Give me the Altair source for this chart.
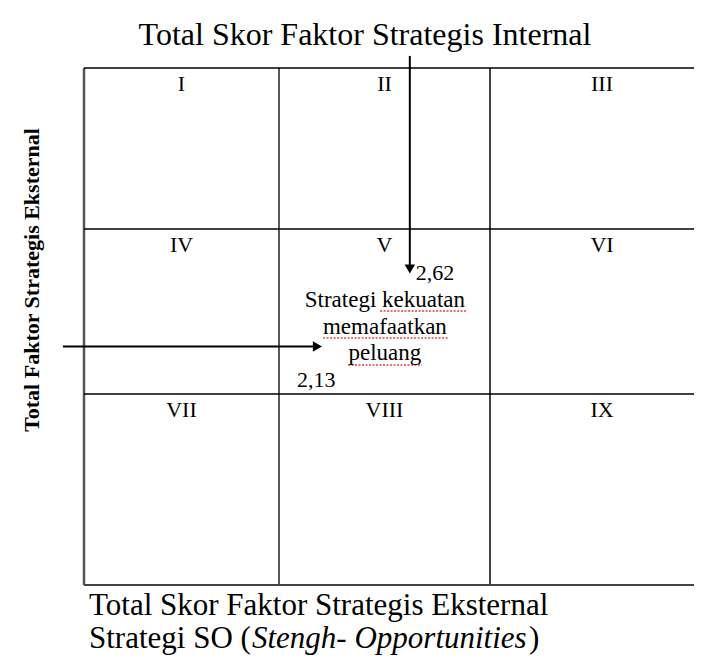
import altair as alt
import pandas as pd

# ---- data (IE matrix, score units) ----
col_bounds = [1, 2, 3, 4]          # IFE score boundaries (left -> right)
row_bounds = [4, 3, 2, 1]          # EFE score boundaries (top -> bottom)
numerals = ["I", "II", "III", "IV", "V", "VI", "VII", "VIII", "IX"]
numeral_x = [1.5, 2.5, 3.5, 1.5, 2.5, 3.5, 1.5, 2.5, 3.5]
numeral_y = [4, 4, 4, 3, 3, 3, 2, 2, 2]

ife_score = 2.62
ife_label = "2,62"
ife_arrow_from = 4.075
ife_arrow_to = 2.758

efe_pos = 2.288
efe_label = "2,13"
efe_arrow_from = 0.892
efe_arrow_to = 2.182

title_top = "Total Skor Faktor Strategis Internal"
title_left = "Total Faktor Strategis Eksternal"
bottom_line1 = "Total Skor Faktor Strategis Eksternal"
bottom_line2 = ["Strategi SO (", "Stengh- Opportunities", ")"]
center_text = "Strategi kekuatan\nmemafaatkan\npeluang"

# spell-check underline spans under the centre text (score units)
squiggle_x1 = [2.479, 2.209, 2.327]
squiggle_x2 = [2.891, 2.801, 2.678]
squiggle_y = [2.503, 2.339, 2.176]

FONT = "Times New Roman, Liberation Serif, serif"

xs = alt.Scale(domain=[1, 2, 3, 4], range=[76, 271, 482, 706], nice=False, zero=False)
ys = alt.Scale(domain=[4, 3, 2, 1], range=[60, 221, 386, 577], nice=False, zero=False)
X = lambda f: alt.X(f, type="quantitative", scale=xs, axis=None)
Y = lambda f: alt.Y(f, type="quantitative", scale=ys, axis=None)

# grid lines
vlines = pd.DataFrame({"x": col_bounds, "y1": [1] * 4, "y2": [4] * 4,
                       "w": [2.5, 1.3, 2.0, 1.3], "c": ["#555", "#000", "#444", "#000"]})
hlines = pd.DataFrame({"y": row_bounds, "x1": [1] * 4, "x2": [4] * 4,
                       "w": [1.5, 1.3, 1.5, 2.0], "c": ["#000", "#000", "#000", "#444"]})

v = alt.Chart(vlines).mark_rule().encode(
    x=X("x"), y=Y("y1"), y2="y2",
    strokeWidth=alt.StrokeWidth("w:Q", scale=None),
    color=alt.Color("c:N", scale=None))
h = alt.Chart(hlines).mark_rule().encode(
    y=Y("y"), x=X("x1"), x2="x2",
    strokeWidth=alt.StrokeWidth("w:Q", scale=None),
    color=alt.Color("c:N", scale=None))

num_df = pd.DataFrame({"t": numerals, "x": numeral_x, "y": numeral_y})
nums = alt.Chart(num_df).mark_text(font=FONT, fontSize=22, baseline="alphabetic", dy=23,
                                   color="black").encode(x=X("x"), y=Y("y"), text="t:N")

# arrows
arr_v = alt.Chart(pd.DataFrame({"x": [ife_score], "a": [ife_arrow_from], "b": [ife_arrow_to]})).mark_rule(
    color="black", strokeWidth=2).encode(x=X("x"), y=Y("a"), y2="b")
head_v = alt.Chart(pd.DataFrame({"x": [ife_score], "y": [ife_arrow_to]})).mark_point(
    shape="triangle-down", filled=True, color="black", size=110, opacity=1).encode(x=X("x"), y=Y("y"))
arr_h = alt.Chart(pd.DataFrame({"y": [efe_pos], "a": [efe_arrow_from], "b": [efe_arrow_to]})).mark_rule(
    color="black", strokeWidth=2).encode(y=Y("y"), x=X("a"), x2="b")
head_h = alt.Chart(pd.DataFrame({"x": [efe_arrow_to], "y": [efe_pos]})).mark_point(
    shape="triangle-right", filled=True, color="black", size=110, opacity=1).encode(x=X("x"), y=Y("y"))

lab_v = alt.Chart(pd.DataFrame({"x": [ife_score], "y": [ife_arrow_to], "t": [ife_label]})).mark_text(
    font=FONT, fontSize=22, align="left", baseline="alphabetic", dx=6, dy=11, color="black").encode(
    x=X("x"), y=Y("y"), text="t:N")
lab_h = alt.Chart(pd.DataFrame({"x": [2.0], "y": [efe_pos], "t": [efe_label]})).mark_text(
    font=FONT, fontSize=22, align="left", baseline="alphabetic", dx=18, dy=41, color="black").encode(
    x=X("x"), y=Y("y"), text="t:N")

squig = alt.Chart(pd.DataFrame({"a": squiggle_x1, "b": squiggle_x2, "y": squiggle_y})).mark_rule(
    color="#e02020", strokeWidth=1.4, strokeDash=[2, 1.5], opacity=0.85).encode(
    x=X("a"), x2="b", y=Y("y"))

center = alt.Chart(pd.DataFrame({"x": [2.502], "y": [2.527], "t": [center_text]})).mark_text(
    font=FONT, fontSize=23, align="center", baseline="alphabetic", lineBreak="\n", lineHeight=26.5,
    color="black").encode(x=X("x"), y=Y("y"), text="t:N")

# titles
t_top = alt.Chart(pd.DataFrame({"t": [title_top]})).mark_text(
    font=FONT, fontSize=32, align="center", baseline="alphabetic", color="black").encode(
    x=alt.value(357), y=alt.value(37), text="t:N")
t_left = alt.Chart(pd.DataFrame({"t": [title_left]})).mark_text(
    font=FONT, fontSize=22, fontWeight="bold", angle=270, align="center", baseline="middle",
    color="black").encode(x=alt.value(24), y=alt.value(272), text="t:N")
t_b1 = alt.Chart(pd.DataFrame({"t": [bottom_line1]})).mark_text(
    font=FONT, fontSize=31, align="left", baseline="alphabetic", color="black").encode(
    x=alt.value(81), y=alt.value(607), text="t:N")
t_b2a = alt.Chart(pd.DataFrame({"t": [bottom_line2[0]]})).mark_text(
    font=FONT, fontSize=31, align="left", baseline="alphabetic", color="black").encode(
    x=alt.value(81), y=alt.value(640), text="t:N")
t_b2b = alt.Chart(pd.DataFrame({"t": [bottom_line2[1]]})).mark_text(
    font=FONT, fontSize=31, fontStyle="italic", align="left", baseline="alphabetic", color="black").encode(
    x=alt.value(244), y=alt.value(640), text="t:N")
t_b2c = alt.Chart(pd.DataFrame({"t": [bottom_line2[2]]})).mark_text(
    font=FONT, fontSize=31, align="left", baseline="alphabetic", color="black").encode(
    x=alt.value(521), y=alt.value(640), text="t:N")

chart = alt.layer(v, h, nums, arr_v, head_v, arr_h, head_h, lab_v, lab_h, squig, center,
                  t_top, t_left, t_b1, t_b2a, t_b2b, t_b2c).properties(
    width=686, height=648, autosize=alt.AutoSizeParams(type="none"), padding=0
).configure_view(stroke=None)

chart.save("out.html", embed_options={"renderer": "svg", "actions": False})
